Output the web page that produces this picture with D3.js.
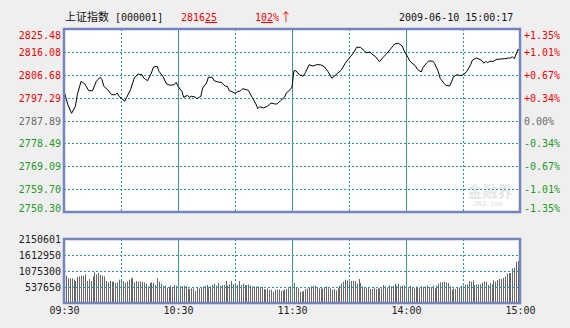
<!DOCTYPE html>
<html>
<head>
<meta charset="utf-8">
<script src="https://cdn.jsdelivr.net/npm/d3@7"></script>
<style>
body { margin: 0; background: #efefef; }
svg { display: block; }
text { font-family: "DejaVu Sans Mono", monospace; font-size: 10px; }
</style>
</head>
<body>
<svg id="chart" width="570" height="328"></svg>
<script>
var prevClose = 2787.89;
var priceTicks = [2825.48, 2816.08, 2806.68, 2797.29, 2787.89, 2778.49, 2769.09, 2759.70, 2750.30];
var pctTicks = ["+1.35%", "+1.01%", "+0.67%", "+0.34%", "0.00%", "-0.34%", "-0.67%", "-1.01%", "-1.35%"];
var volTicks = [537650, 1075300, 1612950, 2150601];
var timeTicks = [0, 60, 120, 180, 240];
var timeLabels = ["09:30", "10:30", "11:30", "14:00", "15:00"];
var gridMinutes = [30, 60, 90, 120, 150, 180, 210];
var solidMinutes = [60, 120, 180];

// minute index (0 = 09:30, 120 = 11:30/13:00, 240 = 15:00) and index price
var lineMin = [
  0, 2, 4, 6, 7, 9, 11, 13, 15, 17, 19, 20, 21, 23, 25, 27, 28, 29, 30, 32,
  33, 35, 37, 39, 41, 42, 44, 46, 47, 49, 50, 52, 54, 56, 58, 59, 60, 62, 63, 65,
  66, 67, 69, 70, 72, 73, 75, 76, 78, 79, 81, 83, 84, 85, 86, 87, 88, 90, 91, 93,
  94, 96, 97, 99, 101, 102, 103, 105, 107, 108, 109, 111, 112, 114, 116, 117, 119, 120, 121, 122,
  124, 126, 127, 129, 131, 133, 135, 137, 139, 141, 144, 146, 148, 150, 152, 154, 156, 158, 159, 161,
  162, 164, 166, 168, 170, 172, 174, 176, 178, 179, 181, 182, 185, 186, 188, 189, 191, 192, 194, 195,
  197, 198, 200, 201, 203, 204, 205, 207, 208, 210, 212, 214, 215, 217, 218, 220, 221, 222, 223, 224,
  226, 227, 228, 230, 232, 234, 235, 236, 237, 238, 239, 240
];
var linePrice = [
  2800.13, 2794.38, 2790.85, 2793.72, 2798.49, 2803.99, 2802.88, 2800.13, 2800.13, 2803.99,
  2805.64, 2804.65, 2801.94, 2800.54, 2798.49, 2798.49, 2799.19, 2797.83, 2797.13, 2795.78,
  2797.42, 2800.54, 2805.35, 2806.99, 2806.71, 2805.35, 2804.24, 2807.40, 2809.75, 2810.16,
  2808.10, 2806.05, 2802.88, 2802.35, 2802.60, 2803.58, 2801.94, 2799.89, 2797.42, 2798.24,
  2797.42, 2797.83, 2797.54, 2796.85, 2797.83, 2801.24, 2803.30, 2805.64, 2805.64, 2804.24,
  2803.71, 2803.50, 2802.60, 2801.94, 2801.94, 2800.13, 2799.89, 2799.06, 2799.60, 2800.13,
  2800.95, 2800.54, 2800.30, 2797.42, 2794.67, 2792.74, 2793.56, 2793.03, 2793.72, 2794.38,
  2795.08, 2794.67, 2794.67, 2796.02, 2797.42, 2799.19, 2800.54, 2801.60, 2808.35, 2808.35,
  2806.58, 2806.17, 2807.53, 2810.81, 2810.28, 2810.81, 2810.81, 2809.99, 2807.94, 2805.23,
  2807.28, 2808.64, 2811.39, 2813.44, 2815.21, 2817.96, 2817.96, 2816.57, 2815.74, 2816.03,
  2815.21, 2814.10, 2812.05, 2813.85, 2815.50, 2817.39, 2819.32, 2819.61, 2818.50, 2816.57,
  2813.85, 2812.30, 2810.28, 2808.92, 2807.81, 2809.75, 2811.64, 2812.33, 2812.33, 2811.39,
  2807.94, 2805.23, 2803.17, 2802.35, 2802.06, 2803.83, 2805.88, 2806.71, 2806.46, 2806.46,
  2808.10, 2810.81, 2812.74, 2813.57, 2813.28, 2812.46, 2811.39, 2812.21, 2811.64, 2812.21,
  2812.21, 2812.74, 2813.03, 2813.16, 2813.28, 2813.57, 2813.57, 2814.10, 2813.28, 2815.21,
  2817.14, 2816.25
];

// volume per minute, thousands
var volMorning = [
  1904, 918, 829, 829, 829, 784, 739, 874, 896, 918, 918, 963, 739, 806, 739, 896, 1030, 963, 1008, 941,
  920, 896, 739, 694, 739, 717, 717, 672, 694, 784, 739, 739, 672, 717, 784, 829, 851, 694, 739, 717,
  717, 700, 694, 650, 560, 672, 694, 672, 605, 829, 717, 650, 582, 582, 515, 515, 582, 515, 605, 582,
  582, 560, 570, 582, 560, 493, 470, 493, 493, 403, 515, 493, 515, 560, 582, 605, 493, 560, 605, 650,
  582, 672, 582, 600, 605, 739, 582, 627, 739, 627, 672, 605, 739, 605, 650, 605, 605, 627, 582, 560,
  560, 560, 560, 515, 540, 470, 448, 493, 448, 448, 381, 448, 448, 448, 403, 430, 448, 470, 493, 560,
  1646
];
var volAfternoon = [
  672, 515, 493, 381, 381, 403, 470, 493, 515, 560, 582, 582, 515, 493, 493, 480, 493, 560, 493, 493,
  448, 470, 426, 493, 582, 650, 717, 784, 762, 717, 739, 739, 739, 650, 806, 672, 560, 515, 515, 515,
  470, 470, 515, 470, 493, 493, 493, 605, 560, 515, 582, 560, 582, 650, 582, 650, 560, 570, 582, 515,
  493, 582, 538, 493, 560, 515, 515, 560, 538, 560, 582, 538, 538, 582, 493, 582, 650, 694, 700, 717,
  694, 672, 560, 448, 493, 470, 515, 515, 582, 582, 605, 627, 739, 717, 762, 605, 627, 627, 627, 680,
  717, 717, 605, 672, 627, 762, 717, 762, 806, 806, 850, 896, 986, 1008, 1008, 1165, 1187, 1389, 1411, 112
];
var volume = volMorning.concat(volAfternoon);

var svg = d3.select("#chart");
var left = 64, right = 520;
var mainTop = 29, mainBottom = 212;
var volTop = 239, volBottom = 303;
var border = "#7485bd", gridColor = "#1f9e9b", solidColor = "#3a9a8c";
var red = "#ff0000", green = "#1f9a1f", grey = "#6a6a6a";

var x = d3.scaleLinear().domain([0, 240]).range([left, right]);
var y = d3.scaleLinear().domain([2750.30, 2825.48]).range([mainBottom, mainTop]);
var yv = d3.scaleLinear().domain([0, 2150.601]).range([volBottom, volTop]);

function tickColor(i) {
    var v = priceTicks[i];
    if (Math.abs(v - prevClose) < 0.001) return grey;
    return v > prevClose ? red : green;
}

// plot backgrounds
svg.append("rect").attr("x", left).attr("y", mainTop).attr("width", right - left).attr("height", mainBottom - mainTop).attr("fill", "#fff");
svg.append("rect").attr("x", left).attr("y", volTop).attr("width", right - left).attr("height", volBottom - volTop).attr("fill", "#fff");

// watermark
var wm = svg.append("g").attr("fill", "#e6e6e6");
wm.append("text").attr("x", 490).attr("y", 197).attr("text-anchor", "middle")
    .style("font-family", "'Noto Sans CJK SC'").style("font-size", "15px").style("font-weight", "bold").text("金融界");
wm.append("text").attr("x", 488).attr("y", 206).attr("text-anchor", "middle")
    .style("font-size", "7px").style("font-weight", "bold").text("JRJ.com");

// volume bars
svg.append("g").selectAll("rect").data(volume).enter().append("rect")
    .attr("x", function(d, i) { return Math.round(x(i)); })
    .attr("y", function(d) { return yv(d); })
    .attr("width", 1)
    .attr("height", function(d) { return volBottom - yv(d); })
    .attr("fill", "#666");

// grids
function drawGrid(top, bottom, hVals, yScale) {
    var g = svg.append("g");
    g.selectAll(".h").data(hVals).enter().append("line")
        .attr("x1", left).attr("x2", right)
        .attr("y1", function(d) { return Math.round(yScale(d)) + 0.5; })
        .attr("y2", function(d) { return Math.round(yScale(d)) + 0.5; })
        .attr("stroke", gridColor).attr("stroke-dasharray", "2,2");
    g.selectAll(".v").data(gridMinutes).enter().append("line")
        .attr("x1", function(d) { return Math.round(x(d)) + 0.5; })
        .attr("x2", function(d) { return Math.round(x(d)) + 0.5; })
        .attr("y1", top).attr("y2", bottom)
        .attr("stroke", function(d) { return solidMinutes.indexOf(d) >= 0 ? solidColor : gridColor; })
        .attr("stroke-dasharray", function(d) { return solidMinutes.indexOf(d) >= 0 ? null : "2,2"; });
}
drawGrid(mainTop, mainBottom, priceTicks.slice(1, -1), y);
drawGrid(volTop, volBottom, volTicks.slice(0, 3).map(function(d) { return d / 1000; }), yv);

// price line
var pts = lineMin.map(function(m, i) { return [m, linePrice[i]]; });
svg.append("path").datum(pts)
    .attr("fill", "none").attr("stroke", "#000").attr("stroke-width", 1)
    .attr("d", d3.line().x(function(d) { return x(d[0]); }).y(function(d) { return y(d[1]); }));

// borders
[[mainTop, mainBottom], [volTop, volBottom]].forEach(function(p) {
    svg.append("rect").attr("x", left).attr("y", p[0]).attr("width", right - left).attr("height", p[1] - p[0])
        .attr("fill", "none").attr("stroke", border).attr("stroke-width", 2.5);
});

// price axis (left)
var axL = svg.append("g").attr("transform", "translate(" + (left - 2) + ",0)")
    .call(d3.axisLeft(y).tickValues(priceTicks).tickFormat(d3.format(".2f")).tickSize(0).tickPadding(1));
axL.select(".domain").remove();
axL.selectAll("text")
    .attr("fill", function(d, i) { return tickColor(i); })
    .style("font-size", "10px").style("font-family", "'DejaVu Sans Mono'")
    .attr("dy", function(d, i) { return i === 0 ? "0.95em" : (i === priceTicks.length - 1 ? "-0.05em" : "0.35em"); });

// percent axis (right)
var axR = svg.append("g").attr("transform", "translate(" + (right + 3) + ",0)")
    .call(d3.axisRight(y).tickValues(priceTicks).tickFormat(function(d, i) { return pctTicks[i]; }).tickSize(0).tickPadding(1));
axR.select(".domain").remove();
axR.selectAll("text")
    .attr("fill", function(d, i) { return tickColor(i); })
    .style("font-size", "10px").style("font-family", "'DejaVu Sans Mono'")
    .attr("dy", function(d, i) { return i === 0 ? "0.95em" : (i === priceTicks.length - 1 ? "-0.05em" : "0.35em"); });

// volume axis
var axV = svg.append("g").attr("transform", "translate(" + (left - 2) + ",0)")
    .call(d3.axisLeft(yv).tickValues(volTicks.map(function(d) { return d / 1000; }))
        .tickFormat(function(d, i) { return volTicks[i]; }).tickSize(0).tickPadding(1));
axV.select(".domain").remove();
axV.selectAll("text").attr("fill", "#222").style("font-size", "10px").style("font-family", "'DejaVu Sans Mono'");

// time axis
var axT = svg.append("g").attr("transform", "translate(0," + (volBottom + 3) + ")")
    .call(d3.axisBottom(x).tickValues(timeTicks).tickFormat(function(d, i) { return timeLabels[i]; }).tickSize(0).tickPadding(1));
axT.select(".domain").remove();
axT.selectAll("text").attr("fill", "#222").style("font-size", "10px").style("font-family", "'DejaVu Sans Mono'");

// header
var hy = 21;
svg.append("text").attr("x", 65).attr("y", hy).attr("fill", "#111")
    .style("font-family", "'Noto Sans CJK SC'").style("font-size", "11px").text("上证指数");
svg.append("text").attr("x", 115).attr("y", hy).attr("fill", "#111").text("[000001]");

function underlined(xs, parts) {
    var cx = xs;
    parts.forEach(function(p) {
        svg.append("text").attr("x", cx).attr("y", hy).attr("fill", red).text(p.t);
        var w = p.t.length * 6.02;
        if (p.u) {
            svg.append("line").attr("x1", cx).attr("x2", cx + w).attr("y1", hy + 1.5).attr("y2", hy + 1.5)
                .attr("stroke", red).attr("stroke-width", 1);
        }
        cx += w;
    });
}
underlined(181, [{ t: "2816" }, { t: "25", u: true }]);
underlined(255, [{ t: "1" }, { t: "02", u: true }, { t: "%" }]);
svg.append("text").attr("x", 280).attr("y", hy + 1).attr("fill", red)
    .style("font-family", "'Noto Sans CJK SC'").style("font-size", "12px").text("↑");
svg.append("text").attr("x", 399).attr("y", hy).attr("fill", "#111").text("2009-06-10 15:00:17");
</script>
</body>
</html>
